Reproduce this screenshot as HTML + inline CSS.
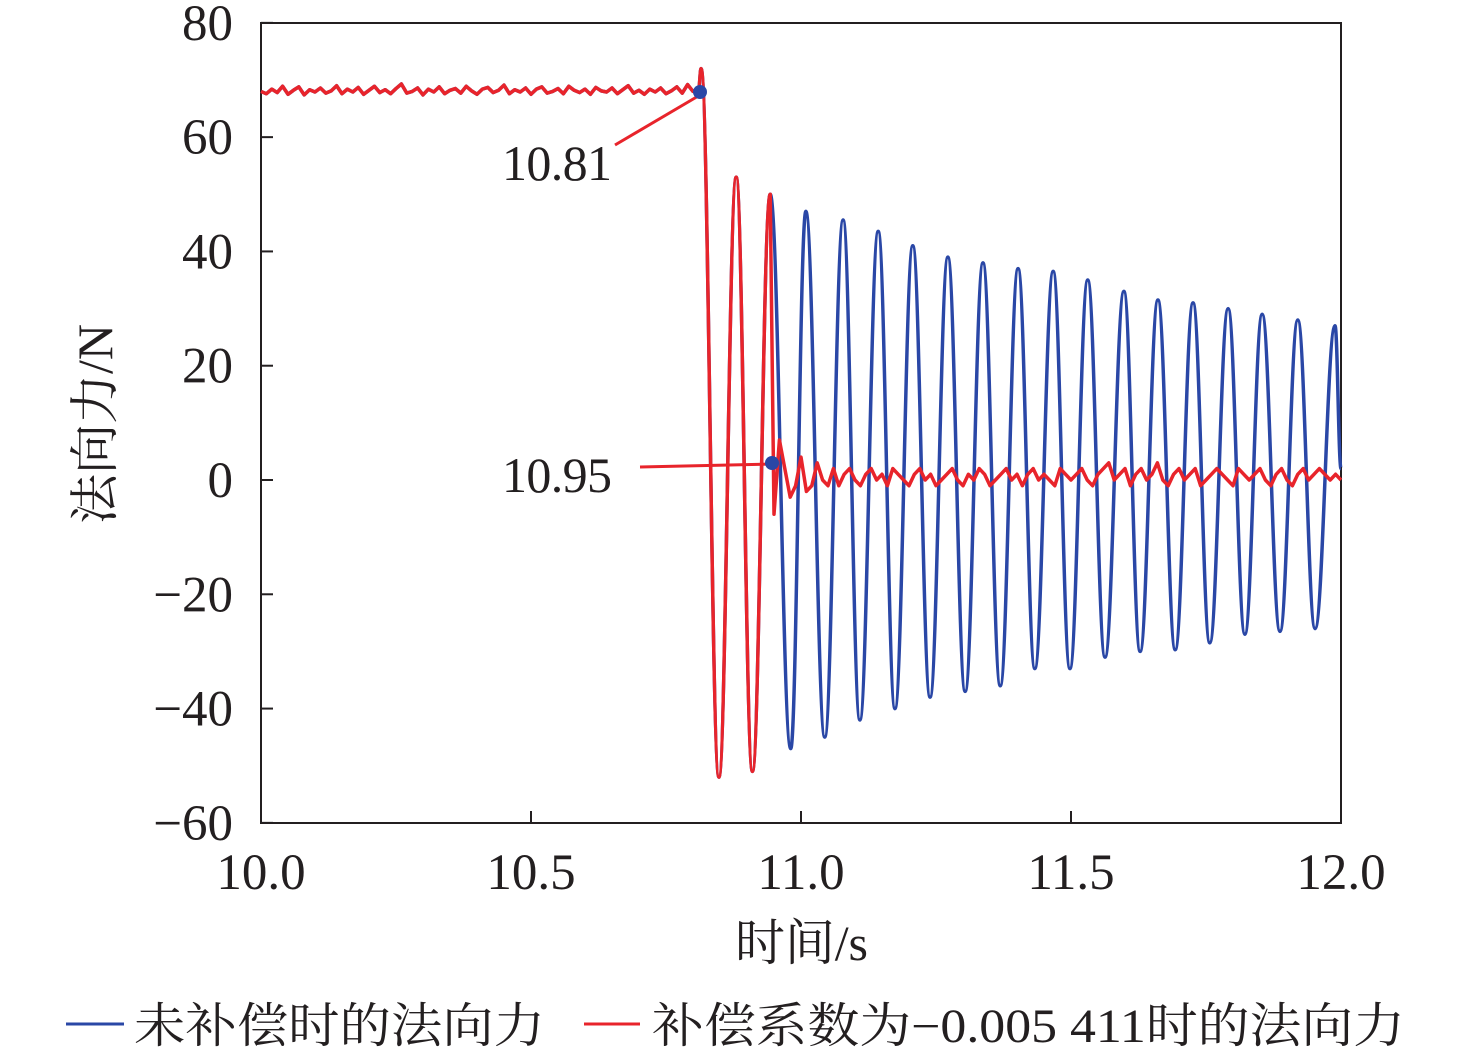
<!DOCTYPE html>
<html><head><meta charset="utf-8"><style>
html,body{margin:0;padding:0;background:#fff}
svg text{font-family:"Liberation Serif","Noto Serif CJK SC",serif;fill:#231f20}
</style></head><body>
<svg width="1476" height="1058" viewBox="0 0 1476 1058" id="chart">
<rect x="261" y="23" width="1080" height="800" fill="none" stroke="#231f20" stroke-width="2"/>
<g id="ticks"></g>
<g id="series"></g>
<g>
<line x1="615" y1="145" x2="700" y2="95" stroke="#e8242b" stroke-width="3"/>
<line x1="640" y1="467" x2="772" y2="464" stroke="#e8242b" stroke-width="3"/>
<circle cx="700" cy="92" r="7" fill="#2a47a6"/>
<circle cx="772" cy="463" r="7" fill="#2a47a6"/>
<text x="502" y="180" font-size="50" textLength="110">10.81</text>
<text x="502" y="492" font-size="50" textLength="110">10.95</text>
</g>
<text x="735" y="960" font-size="50" textLength="133">时间/s</text>
<text transform="translate(112,424) rotate(-90)" font-size="50" text-anchor="middle">法向力/N</text>
<g>
<line x1="66" y1="1024" x2="124" y2="1024" stroke="#2a47a6" stroke-width="3"/>
<text x="134" y="1042" font-size="48" textLength="411" lengthAdjust="spacingAndGlyphs">未补偿时的法向力</text>
<line x1="584" y1="1024" x2="640" y2="1024" stroke="#e8242b" stroke-width="3"/>
<text x="652" y="1042" font-size="48" textLength="753" lengthAdjust="spacingAndGlyphs">补偿系数为−0.005 411时的法向力</text>
</g>
</svg>
<script>
const xTicks=[10.0,10.5,11.0,11.5,12.0];
const xTickLabels=["10.0","10.5","11.0","11.5","12.0"];
const yTicks=[80,60,40,20,0,-20,-40,-60];
const yTickLabels=["80","60","40","20","0","−20","−40","−60"];
// shared transient extremes (time, value)
const transientT=[10.81,10.815,10.848,10.88,10.91,10.943];
const transientV=[68,72,-52,53,-51,50];
// blue oscillation extremes after 10.943
const blueT=[10.981,11.009,11.044,11.078,11.109,11.143,11.174,11.207,11.239,11.272,11.304,11.337,11.369,11.402,11.433,11.467,11.498,11.531,11.563,11.598,11.628,11.661,11.693,11.726,11.757,11.791,11.822,11.854,11.887,11.920,11.952,11.989,12.0];
const blueV=[-47,47,-45,45.5,-42,43.5,-40,41,-38,39,-37,38,-36,37,-33,36.5,-33,35,-31,33,-30,31.5,-29.7,31,-28.5,30,-27,29,-26.5,28,-26,27,2];
// red steady noise before 10.81 (step 0.01 from 10.0)
const redPre=[68,67.6,68.4,67.8,68.9,67.5,68.2,68.8,67.4,68.3,67.9,68.6,67.7,68.1,69,67.6,68.4,67.9,68.7,67.5,68.2,68.9,67.8,68.3,67.6,68.5,69.3,67.7,68,68.6,67.4,68.4,67.9,68.8,67.6,68.2,68.5,67.7,68.9,68.1,67.5,68.4,68.7,67.8,68.2,69.1,67.6,68.3,67.9,68.6,67.5,68.4,68.8,67.7,68,68.5,67.6,68.9,68.2,67.8,68.4,67.5,68.7,68.1,67.9,68.6,67.6,68.3,69,67.7,68.2,67.5,68.4,67.9,68.6,67.6,68.1,68.8,67.7,69.2,68];
// red after compensation (step 0.01 from 10.95)
const redPost=[-6,7,2,-3,-1,4,-2,-1,3,0,-1,2,-1,1,2,0,-1,1,2,0,1,-1,2,1,0,-1,1,2,0,1,-1,0,1,2,0,-1,1,0,2,1,-1,0,1,2,0,1,-1,1,2,0,1,0,-1,2,1,0,1,2,0,-1,1,2,3,0,1,2,-1,1,2,0,1,3,0,-1,1,2,0,1,2,-1,0,1,2,1,0,-1,2,1,0,1,2,0,-1,1,2,0,-1,1,2,0,1,2,1,0,1,0];
const X=t=>261+(t-10)*540;
const Y=v=>480-v*(800/140);
const NS="http://www.w3.org/2000/svg";
const tg=document.getElementById('ticks'),sg=document.getElementById('series');
function mk(tag,attrs,parent){const e=document.createElementNS(NS,tag);for(const k in attrs)e.setAttribute(k,attrs[k]);parent.appendChild(e);return e;}
xTicks.forEach((t,i)=>{
 const l=mk('line',{x1:X(t),x2:X(t),y1:823,y2:811,stroke:'#231f20','stroke-width':2},tg);
 
 
 const tx=mk('text',{x:X(t),y:889,'font-size':51,'text-anchor':'middle'},tg);
 tx.textContent=xTickLabels[i];
 
 
});
yTicks.forEach((v,i)=>{
 const l=mk('line',{x1:261,x2:273,y1:Y(v),y2:Y(v),stroke:'#231f20','stroke-width':2},tg);
 
 
 const tx=mk('text',{x:233,y:Y(v)+17,'font-size':51,'text-anchor':'end'},tg);
 tx.textContent=yTickLabels[i];
 
 
});
function smooth(ts,vs){let d='';for(let i=1;i<ts.length;i++){const x0=X(ts[i-1]),y0=Y(vs[i-1]),x1=X(ts[i]),y1=Y(vs[i]);const dx=(x1-x0)*0.4;d+=` C${x0+dx},${y0} ${x1-dx},${y1} ${x1},${y1}`;}return d;}
let bd='M'+redPre.map((v,i)=>X(10+i*0.01)+','+Y(v)).join(' L');
bd+=' L'+X(transientT[0])+','+Y(transientV[0]);
bd+=smooth(transientT.concat(blueT),transientV.concat(blueV));
const bp=mk('path',{d:bd,fill:'none',stroke:'#2a47a6','stroke-width':3.5,'stroke-linejoin':'round'},sg);


let rd='M'+redPre.map((v,i)=>X(10+i*0.01)+','+Y(v)).join(' L');
rd+=' L'+X(transientT[0])+','+Y(transientV[0]);
rd+=smooth(transientT,transientV);
rd+=' L'+X(10.95)+','+Y(redPost[0]);
rd+=' L'+redPost.map((v,i)=>X(Math.min(12,10.95+i*0.01))+','+Y(v)).join(' L');
const rp=mk('path',{d:rd,fill:'none',stroke:'#e8242b','stroke-width':3.5,'stroke-linejoin':'round'},sg);


</script>
</body></html>
